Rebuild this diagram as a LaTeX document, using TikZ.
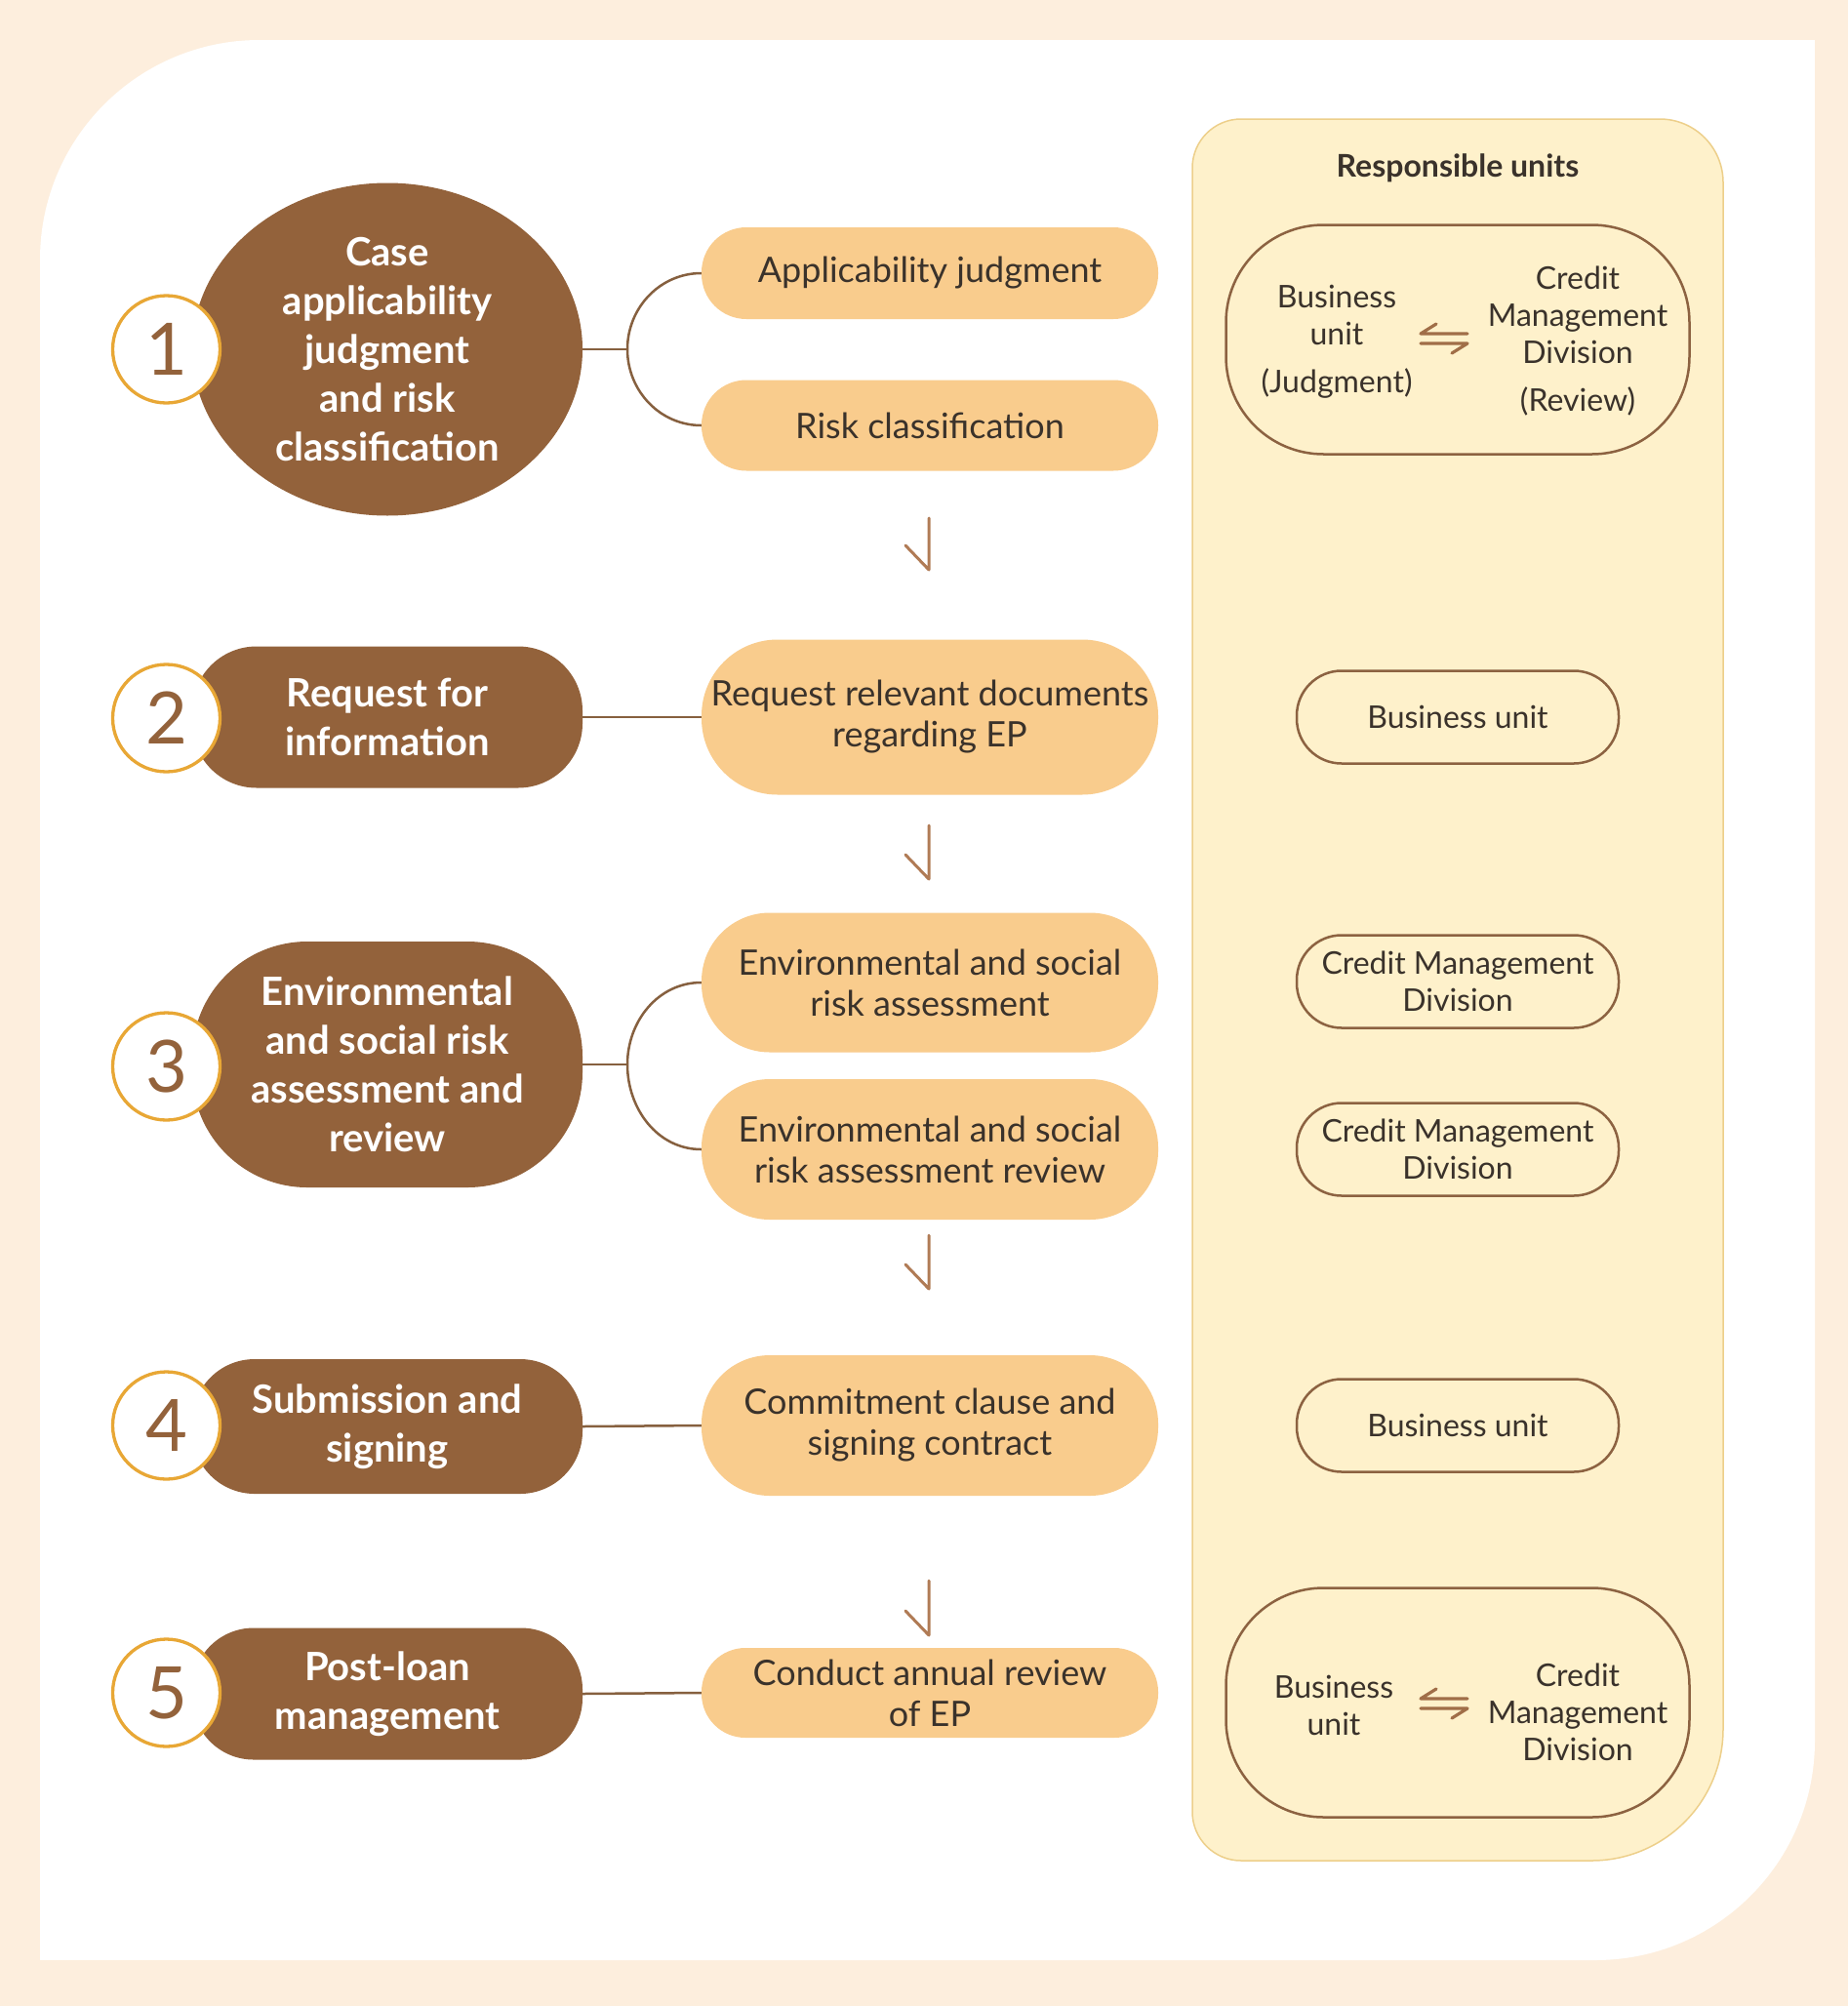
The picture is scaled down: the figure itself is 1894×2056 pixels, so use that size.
\documentclass[tikz,border=0pt]{standalone}
\usepackage{fontspec}
\setmainfont{Lato}
\usetikzlibrary{shapes.geometric,calc}
\definecolor{bgc}{HTML}{FDEEDD}
\definecolor{brownc}{HTML}{93623B}
\definecolor{pillc}{HTML}{F9CC8D}
\definecolor{panelc}{HTML}{FEF1CB}
\definecolor{paneledge}{HTML}{EDCF8A}
\definecolor{numc}{HTML}{E8A735}
\definecolor{txtc}{HTML}{3A322B}
\definecolor{linec}{HTML}{86603F}
\definecolor{arrc}{HTML}{B07B55}
\definecolor{unitc}{HTML}{8C6241}
\definecolor{harpc}{HTML}{A06E48}
\begin{document}
\begin{tikzpicture}[x=1pt,y=-1pt,
  stepnum/.style={circle, draw=numc, line width=3.3pt, fill=white, minimum size=110pt, inner sep=0pt,
    font=\fontsize{74}{74}\selectfont, text=brownc},
  brownbox/.style={rectangle, fill=brownc, text=white, align=center, minimum width=400pt, inner sep=0pt,
    font=\bfseries\fontsize{40}{50}\selectfont},
  pillbox/.style={rectangle, fill=pillc, text=txtc, align=center, minimum width=468pt, inner sep=0pt,
    font=\fontsize{36}{42}\selectfont},
  unitbox/.style={rectangle, draw=unitc, line width=2.5pt, text=txtc, align=center, minimum width=330pt,
    minimum height=95pt, rounded corners=46pt, inner sep=0pt, font=\fontsize{32}{38}\selectfont},
  bigunit/.style={rectangle, draw=unitc, line width=2.5pt, minimum width=475pt, minimum height=235pt,
    rounded corners=100pt, inner sep=0pt},
  unittext/.style={text=txtc, align=center, inner sep=0pt, font=\fontsize{32}{38}\selectfont},
  conn/.style={draw=linec, line width=2.5pt},
  dnarrow/.style={draw=arrc, line width=3pt, line cap=round, line join=round},
  harp/.style={draw=harpc, line width=3.2pt, line cap=round, line join=round}]
\useasboundingbox (0,0) rectangle (1894,2056);
% backgrounds
\fill[bgc] (0,0) rectangle (1894,2056);
\fill[white, rounded corners=225pt] (41,41) rectangle (1860,2009);
\fill[white] (1400,41) rectangle (1860,500);
\fill[white] (41,1500) rectangle (500,2009);
% responsible units panel
\filldraw[fill=panelc, draw=paneledge, line width=1.5pt]
  (1222,172) .. controls (1222,144.4) and (1244.4,122) .. (1272,122)
  -- (1701,122) .. controls (1736.9,122) and (1766,151.1) .. (1766,187)
  -- (1766,1772) .. controls (1766,1846.6) and (1705.6,1907) .. (1631,1907)
  -- (1272,1907) .. controls (1244.4,1907) and (1222,1884.6) .. (1222,1857) -- cycle;
\node[text=txtc, font=\bfseries\fontsize{32}{38}\selectfont] (title) at (1494,172) {Responsible units};

% step shapes
\node[brownbox, ellipse, minimum width=400pt, minimum height=341pt] (s1) at (397,358)
  {Case\\applicability\\judgment\\and risk\\classification};
\node[brownbox, minimum height=145pt, rounded corners=66pt] (s2) at (397,735) {Request for\\information};
\node[brownbox, minimum height=252pt, rounded corners=118pt] (s3) at (397,1091)
  {Environmental\\and social risk\\assessment and\\review};
\node[brownbox, minimum height=138pt, rounded corners=64pt] (s4) at (397,1462) {Submission and\\signing};
\node[brownbox, minimum height=135pt, rounded corners=63pt] (s5) at (397,1736) {Post-loan\\management};

% number circles
\node[stepnum] (n1) at (170.5,358) {1};
\node[stepnum] (n2) at (170.5,736) {2};
\node[stepnum] (n3) at (170.5,1093) {3};
\node[stepnum] (n4) at (170.5,1461) {4};
\node[stepnum] (n5) at (170.5,1735) {5};

% middle pills
\node[pillbox, minimum height=94pt, rounded corners=46pt] (p1a) at (953,280) {Applicability judgment};
\node[pillbox, minimum height=93pt, rounded corners=46pt] (p1b) at (953,436) {Risk classification};
\node[pillbox, minimum height=159pt, rounded corners=78pt] (p2) at (953,735) {Request relevant documents\\regarding EP};
\node[pillbox, minimum height=143pt, rounded corners=70pt] (p3a) at (953,1007) {Environmental and social\\risk assessment};
\node[pillbox, minimum height=144pt, rounded corners=70pt] (p3b) at (953,1178) {Environmental and social\\risk assessment review};
\node[pillbox, minimum height=144pt, rounded corners=70pt] (p4) at (953,1461) {Commitment clause and\\signing contract};
\node[pillbox, minimum height=92pt, rounded corners=45pt] (p5) at (953,1735) {Conduct annual review\\of EP};

% connectors
\coordinate (j1) at (643,358);
\coordinate (j3) at (643,1091);
\draw[conn] (s1.east) -- (j1);
\draw[conn] (p1a.west) to[out=180,in=90] (j1) to[out=-90,in=180] (p1b.west);
\draw[conn] (s2.east) -- (p2.west);
\draw[conn] (s3.east) -- (j3);
\draw[conn] (p3a.west) to[out=180,in=90] (j3) to[out=-90,in=180] (p3b.west);
\draw[conn] (s4.east) -- (p4.west);
\draw[conn] (s5.east) -- (p5.west);

% down arrows
\coordinate (a1t) at (952,531); \coordinate (a1b) at (952,584);
\coordinate (a2t) at (952,846); \coordinate (a2b) at (952,901);
\coordinate (a3t) at (952,1266); \coordinate (a3b) at (952,1321);
\coordinate (a4t) at (952,1620); \coordinate (a4b) at (952,1676);
\draw[dnarrow] (a1t) -- (a1b) -- ++(-24,-25);
\draw[dnarrow] (a2t) -- (a2b) -- ++(-24,-25);
\draw[dnarrow] (a3t) -- (a3b) -- ++(-24,-25);
\draw[dnarrow] (a4t) -- (a4b) -- ++(-24,-25);

% responsible units
\node[bigunit] (u1) at (1494,348) {};
\node[unittext] (u1l) at (1370,350) {Business\\unit\\[11pt](Judgment)};
\node[unittext] (u1r) at (1617,350) {Credit\\Management\\Division\\[11pt](Review)};
\coordinate (h1) at (1480,347);
\draw[harp] ($(h1)+(24,-5)$) -- ($(h1)+(-24,-5)$) -- ++(16,-10);
\draw[harp] ($(h1)+(-24,5)$) -- ($(h1)+(24,5)$) -- ++(-16,10);

\node[unitbox] (u2) at (1494,735) {Business unit};
\node[unitbox] (u3a) at (1494,1006) {Credit Management\\Division};
\node[unitbox] (u3b) at (1494,1178) {Credit Management\\Division};
\node[unitbox] (u4) at (1494,1461) {Business unit};

\node[bigunit] (u5) at (1494,1745) {};
\node[unittext] (u5l) at (1367,1748) {Business\\unit};
\node[unittext] (u5r) at (1617,1755) {Credit\\Management\\Division};
\coordinate (h5) at (1480,1746);
\draw[harp] ($(h5)+(24,-5)$) -- ($(h5)+(-24,-5)$) -- ++(16,-10);
\draw[harp] ($(h5)+(-24,5)$) -- ($(h5)+(24,5)$) -- ++(-16,10);
\end{tikzpicture}
\end{document}
